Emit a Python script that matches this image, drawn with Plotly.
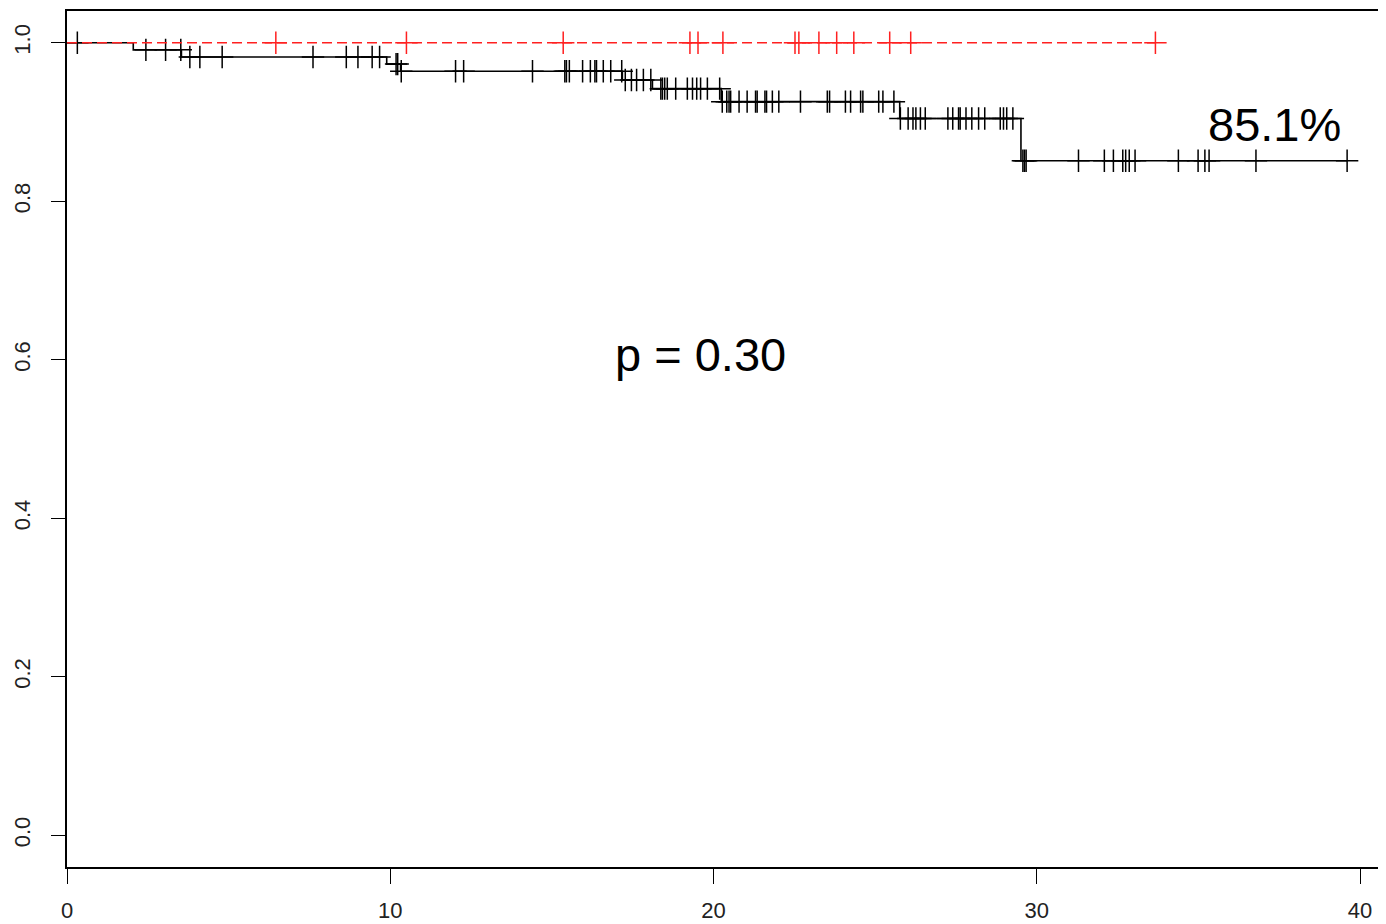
import plotly.graph_objects as go
import numpy as np

# Group A (black) Kaplan-Meier steps
step_times = [0, 2.05, 3.54, 9.89, 10.32, 17.18, 18.11, 20.24, 25.76, 29.51]
step_surv = [1.0, 0.991, 0.982, 0.973, 0.964, 0.953, 0.942, 0.9256, 0.9044, 0.851]
censor_a = [0.32, 2.44, 3.05, 3.52, 3.80, 4.11, 4.80, 7.61, 8.64, 9.00, 9.44, 9.67,
            10.18, 10.23, 10.34, 12.02, 12.27, 14.40, 15.40, 15.45, 15.54, 15.95,
            16.19, 16.33, 16.38, 16.59, 16.82, 17.16, 17.27, 17.46, 17.62, 17.83,
            18.06, 18.37, 18.42, 18.49, 18.57, 18.83, 19.19, 19.35, 19.48, 19.60,
            19.81, 20.19, 20.27, 20.41, 20.48, 20.53, 20.79, 21.04, 21.30, 21.35,
            21.59, 21.64, 21.82, 22.02, 22.69, 23.52, 23.59, 24.08, 24.24, 24.55,
            24.62, 25.11, 25.24, 25.58, 25.78, 26.02, 26.17, 26.26, 26.40, 26.55,
            27.25, 27.40, 27.58, 27.63, 27.81, 27.99, 28.20, 28.39, 28.87, 28.97,
            29.07, 29.26, 29.57, 29.62, 29.67, 31.29, 32.09, 32.37, 32.66, 32.75,
            32.86, 33.04, 34.38, 34.99, 35.20, 35.33, 36.78, 39.60]

# Group B (red) — no events
censor_b = [6.46, 10.50, 15.35, 19.27, 19.52, 20.29, 22.52, 22.64, 23.26, 23.81,
            24.34, 25.45, 26.10, 33.67]
surv_b = 1.0

x_ticks = [0, 10, 20, 30, 40]
y_ticks = [0.0, 0.2, 0.4, 0.6, 0.8, 1.0]
p_text = "p = 0.30"
final_text = "85.1%"


def surv_at(t):
    idx = np.searchsorted(step_times, t, side="right") - 1
    return step_surv[idx]


fig = go.Figure()

xa = step_times + [censor_a[-1]]
ya = step_surv + [step_surv[-1]]
fig.add_trace(go.Scatter(x=xa, y=ya, mode="lines", line=dict(color="black", width=1.6, shape="hv"),
                         hoverinfo="skip", showlegend=False))
fig.add_trace(go.Scatter(x=censor_a, y=[surv_at(t) for t in censor_a], mode="markers",
                         marker=dict(symbol="cross-thin", size=16, line=dict(color="black", width=1.5)),
                         showlegend=False))

fig.add_trace(go.Scatter(x=[0, censor_b[-1]], y=[surv_b, surv_b], mode="lines",
                         line=dict(color="#ff2020", width=1.5, dash="10px,5px"), showlegend=False))
fig.add_trace(go.Scatter(x=censor_b, y=[surv_b] * len(censor_b), mode="markers",
                         marker=dict(symbol="cross-thin", size=16, line=dict(color="#ff2020", width=1.5)),
                         showlegend=False))

fig.add_annotation(x=19.6, y=0.607, text=p_text, showarrow=False,
                   font=dict(family="Liberation Sans, Arial", size=47, color="black"))
fig.add_annotation(x=37.35, y=0.897, text=final_text, showarrow=False,
                   font=dict(family="Liberation Sans, Arial", size=47, color="black"))

# page body has an 8px default margin: size/margins compensate so the plot lands where the reference does
fig.update_layout(
    width=1378, height=916,
    margin=dict(l=59, r=1, t=2, b=54),
    paper_bgcolor="white", plot_bgcolor="white",
    font=dict(family="Liberation Sans, Arial", size=22, color="#222"),
)
fig.update_xaxes(range=[0, 40.71], tickvals=x_ticks, ticktext=[str(v) for v in x_ticks],
                 showgrid=False, zeroline=False, showline=True, mirror=True,
                 linecolor="black", linewidth=1.5, ticks="outside", ticklen=15,
                 tickcolor="black", tickwidth=1, ticklabelstandoff=8)
fig.update_yaxes(range=[-0.04, 1.04], tickvals=y_ticks, ticktext=[f"{v:.1f}" for v in y_ticks],
                 showgrid=False, zeroline=False, showline=True, mirror=True,
                 linecolor="black", linewidth=1.5, ticks="outside", ticklen=14,
                 tickcolor="black", tickwidth=1, tickangle=-90, ticklabelstandoff=12)

fig.write_html("out.html")
